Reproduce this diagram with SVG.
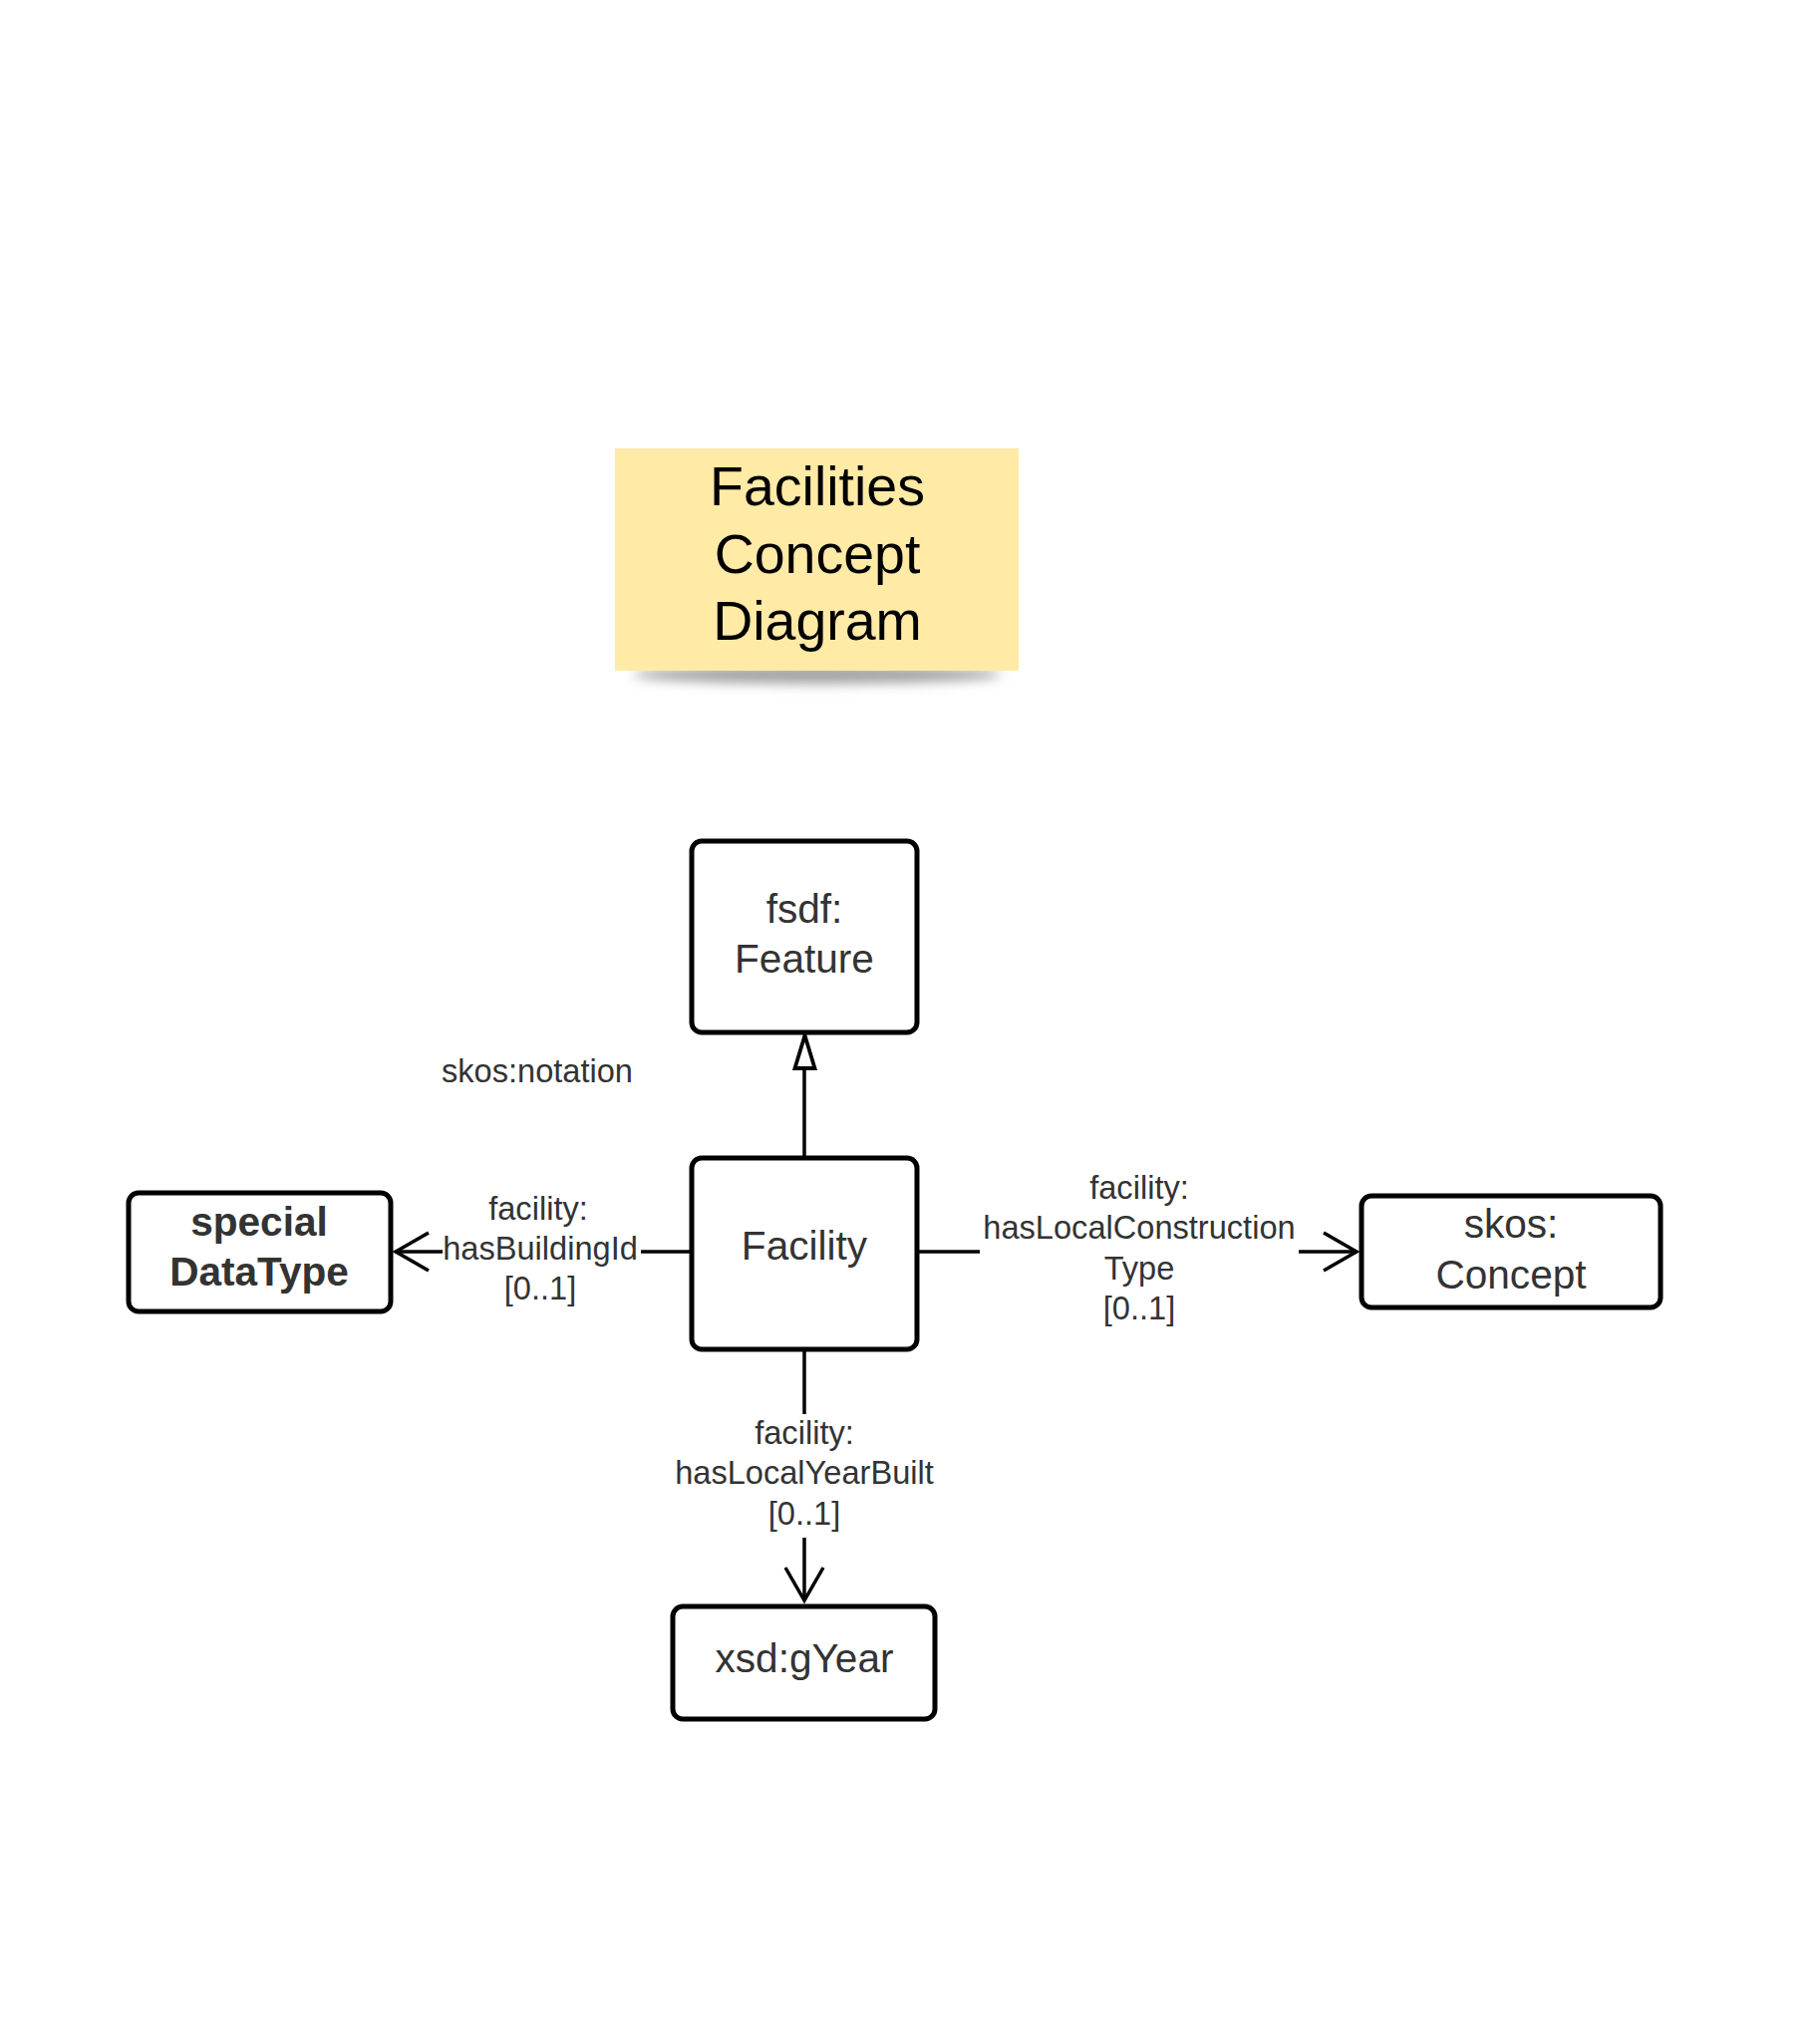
<svg xmlns="http://www.w3.org/2000/svg" width="1826" height="2029" viewBox="0 0 1826 2029">
<defs>
<style>
.box{fill:#fff;stroke:#000;stroke-width:5}
.node{font-family:"Liberation Sans",Arial,sans-serif;font-size:40.6px;fill:#333;text-anchor:middle}
.bold{font-weight:bold}
.lbl{font-family:"Liberation Sans",Arial,sans-serif;font-size:32.6px;fill:#333;text-anchor:middle}
.title{font-family:"Liberation Sans",Arial,sans-serif;font-size:55.5px;fill:#000;text-anchor:middle}
.edge{fill:none;stroke:#000;stroke-width:3.5}
</style>
<filter id="sh" x="-20%" y="-300%" width="140%" height="700%">
<feGaussianBlur stdDeviation="6"/>
</filter>
</defs>
<rect width="1826" height="2029" fill="#fff"/>
<g id="title">
<ellipse cx="820" cy="677" rx="185" ry="9" fill="#a0a0a0" filter="url(#sh)"/>
<rect x="617" y="450" width="405" height="223" fill="#FFEAA6"/>
<text class="title" x="820" y="507">Facilities</text>
<text class="title" x="820" y="575">Concept</text>
<text class="title" x="820" y="642">Diagram</text>
</g>
<g id="connectors">
<path class="edge" d="M807 1162 V1072"/>
<path d="M807.5 1039 L797.5 1072 H817.5 Z" fill="#fff" stroke="#000" stroke-width="3.8" stroke-linejoin="miter"/>
<path class="edge" d="M694 1256 H643"/>
<path class="edge" d="M444 1256 H396"/>
<path class="edge" d="M430 1237 L397 1256 L430 1275"/>
<path class="edge" d="M920 1256 H983"/>
<path class="edge" d="M1303 1256 H1362"/>
<path class="edge" d="M1328 1237 L1361 1256 L1328 1275"/>
<path class="edge" d="M807 1354 V1419"/>
<path class="edge" d="M807 1543 V1606"/>
<path class="edge" d="M788 1573 L807 1606 L826 1573"/>
<text class="lbl" x="540" y="1224">facility:</text>
<text class="lbl" x="542" y="1264">hasBuildingId</text>
<text class="lbl" x="542" y="1304">[0..1]</text>
<text class="lbl" x="1143" y="1203">facility:</text>
<text class="lbl" x="1143" y="1243">hasLocalConstruction</text>
<text class="lbl" x="1143" y="1284">Type</text>
<text class="lbl" x="1143" y="1324">[0..1]</text>
<text class="lbl" x="807" y="1449">facility:</text>
<text class="lbl" x="807" y="1489">hasLocalYearBuilt</text>
<text class="lbl" x="807" y="1530">[0..1]</text>
</g>
<g id="skos-notation">
<text class="lbl" x="539" y="1086">skos:notation</text>
</g>
<g id="feature">
<rect class="box" x="694" y="844" width="226" height="192" rx="10"/>
<text class="node" x="807" y="926">fsdf:</text>
<text class="node" x="807" y="976">Feature</text>
</g>
<g id="facility">
<rect class="box" x="694" y="1162" width="226" height="192" rx="10"/>
<text class="node" x="807" y="1264">Facility</text>
</g>
<g id="specialDataType">
<rect class="box" x="129" y="1197" width="263" height="119" rx="10"/>
<text class="node bold" x="260" y="1240">special</text>
<text class="node bold" x="260" y="1290">DataType</text>
</g>
<g id="skosConcept">
<rect class="box" x="1366" y="1200" width="300" height="112" rx="10"/>
<text class="node" x="1516" y="1242">skos:</text>
<text class="node" x="1516" y="1293">Concept</text>
</g>
<g id="gYear">
<rect class="box" x="675" y="1612" width="263" height="113" rx="10"/>
<text class="node" x="807" y="1678">xsd:gYear</text>
</g>
</svg>
